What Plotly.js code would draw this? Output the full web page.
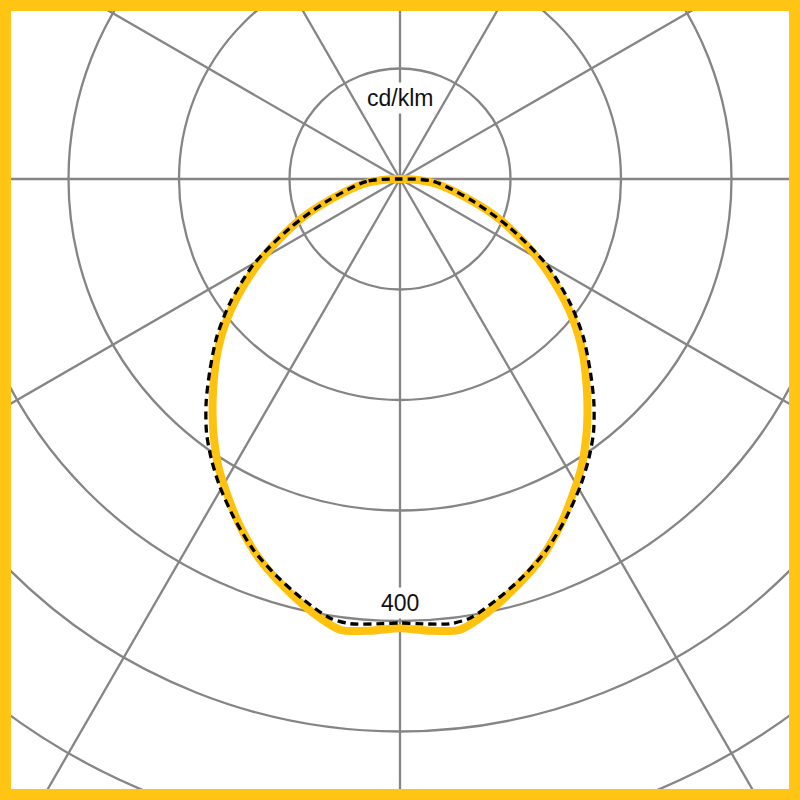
<!DOCTYPE html>
<html>
<head>
<meta charset="utf-8">
<script src="https://cdn.plot.ly/plotly-3.0.1.min.js"></script>
<style>
  html, body { margin: 0; padding: 0; background: #ffffff; }
  #wrap { position: relative; width: 800px; height: 800px; overflow: hidden; background: #fff; }
  #chart { position: absolute; left: -400px; top: -621px; width: 1600px; height: 1600px; }
  #frame { position: absolute; left: 0; top: 0; width: 800px; height: 800px; box-sizing: border-box;
           border: 11px solid #FFC414; pointer-events: none; }
</style>
</head>
<body>
<div id="wrap">
  <div id="chart"></div>
  <div id="frame"></div>
</div>
<script>
// Angles from nadir (degrees), right half; the left half is the mirror image
var anglesC0 = [0, 3.8, 7.6, 11.3, 15.4, 20.2, 24.7, 28.9, 32.3, 36.3, 39.1, 42, 46.4, 50.9, 55.6, 61, 67.9, 74.1, 83.2, 90];
var valuesC0 = [406.5, 409.7, 411.5, 400.5, 385.6, 367.1, 346.1, 324.6, 307.7, 285.2, 269, 252.5, 228.3, 202, 171.9, 138, 97.7, 62.8, 30.3, 0];

var anglesC90 = [0, 2.2, 6.4, 9.1, 12.9, 17.2, 21.6, 26.3, 30.4, 33.9, 37.3, 40.9, 44.9, 49.3, 53.9, 59.7, 66, 73, 85.9, 90];
var valuesC90 = [401.8, 402.7, 405, 402.3, 390.7, 376.5, 360.8, 340.6, 322.4, 305.9, 288.9, 268, 243.6, 218.6, 190.4, 153.7, 109, 69.4, 30.2, 0];

var unitLabel = "cd/klm";
var ringLabel = "400";
var unitLabelR = 73.6;    // above the centre
var ringLabelR = 383.8;   // below the centre
var radialMax = 724;
var radialStep = 100;
var angularStep = 30;

function mirror(angles, values) {
  var th = [], r = [];
  for (var i = angles.length - 1; i >= 0; i--) { th.push(-angles[i]); r.push(values[i]); }
  for (var j = 1; j < angles.length; j++) { th.push(angles[j]); r.push(values[j]); }
  return {theta: th, r: r};
}

var c0 = mirror(anglesC0, valuesC0);
var c90 = mirror(anglesC90, valuesC90);

var traces = [
  {
    type: 'scatterpolar', mode: 'lines',
    theta: c0.theta, r: c0.r,
    line: {color: '#FFC20E', width: 8, shape: 'spline', smoothing: 0.8},
    hoverinfo: 'skip', name: 'C0-C180'
  },
  {
    type: 'scatterpolar', mode: 'lines',
    theta: c90.theta, r: c90.r,
    line: {color: '#000000', width: 3.3, dash: '8px,5px', shape: 'spline', smoothing: 0.8},
    hoverinfo: 'skip', name: 'C90-C270'
  }
];

var layout = {
  width: 1600, height: 1600,
  margin: {l: 0, r: 0, t: 0, b: 0, pad: 0},
  paper_bgcolor: '#ffffff',
  showlegend: false,
  polar: {
    domain: {x: [0, 1], y: [0, 1]},
    bgcolor: '#ffffff',
    radialaxis: {
      range: [0, radialMax], dtick: radialStep, tick0: 0,
      showgrid: true, gridcolor: '#858585', gridwidth: 2.3,
      showticklabels: false, ticks: '', showline: false
    },
    angularaxis: {
      rotation: -90, direction: 'counterclockwise',
      dtick: angularStep, tick0: 0,
      showgrid: true, gridcolor: '#858585', gridwidth: 2.3,
      showticklabels: false, ticks: '', showline: false
    }
  },
  annotations: [
    {
      xref: 'paper', yref: 'paper', x: 0.5, y: 0.5 + 0.5 * unitLabelR / radialMax,
      xanchor: 'center', yanchor: 'middle', showarrow: false,
      text: unitLabel, bgcolor: '#ffffff', borderpad: 2,
      font: {family: 'Liberation Sans, Arial, sans-serif', size: 23, color: '#111111'}
    },
    {
      xref: 'paper', yref: 'paper', x: 0.5, y: 0.5 - 0.5 * ringLabelR / radialMax,
      xanchor: 'center', yanchor: 'middle', showarrow: false,
      text: ringLabel, bgcolor: '#ffffff', borderpad: 2,
      font: {family: 'Liberation Sans, Arial, sans-serif', size: 23, color: '#111111'}
    }
  ]
};

Plotly.newPlot('chart', traces, layout, {displayModeBar: false, staticPlot: true});
</script>
</body>
</html>
